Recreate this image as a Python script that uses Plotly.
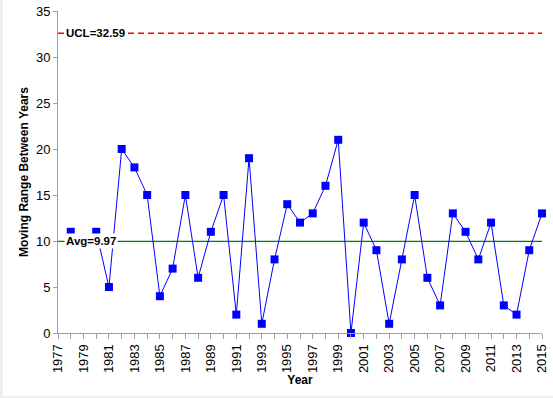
import plotly.graph_objects as go

years = list(range(1978, 2016))
moving_range = [11, 10, 11, 5, 20, 18, 15, 4, 7, 15, 6, 11, 15, 2, 19, 1, 8, 14, 12,
                13, 16, 21, 0, 12, 9, 1, 8, 15, 6, 3, 13, 11, 8, 12, 3, 2, 9, 13]
avg_value = 9.97
ucl_value = 32.59
x_range = [1977, 2015]
y_range = [0, 35]

FONT = "Liberation Sans"
W, H = 553, 398
ML, MR, MT, MB = 58, 11, 11, 65
PW, PH = W - ML - MR, H - MT - MB

fig = go.Figure()

fig.add_trace(go.Scatter(
    x=x_range, y=[ucl_value, ucl_value], mode="lines",
    line=dict(color="#FF0000", width=1.5, dash="6px,4px"),
    hoverinfo="skip", showlegend=False))
fig.add_trace(go.Scatter(
    x=x_range, y=[avg_value, avg_value], mode="lines",
    line=dict(color="#008000", width=1.3),
    hoverinfo="skip", showlegend=False))
fig.add_trace(go.Scatter(
    x=years, y=moving_range, mode="lines+markers",
    line=dict(color="#0000FF", width=1),
    marker=dict(symbol="square", size=8, color="#0000FF"),
    cliponaxis=False, showlegend=False))

fig.add_annotation(x=0.013, xref="paper", y=ucl_value, yref="y",
                   text="<b>UCL=32.59</b>", showarrow=False, xanchor="left",
                   yanchor="middle", bgcolor="white", borderpad=1,
                   font=dict(family=FONT, size=11.5, color="black"))
fig.add_annotation(x=0.013, xref="paper", y=avg_value, yref="y",
                   text="<b>Avg=9.97</b>", showarrow=False, xanchor="left",
                   yanchor="middle", bgcolor="white", borderpad=1,
                   font=dict(family=FONT, size=11.5, color="black"))

# light gray strips at the left and bottom edges of the picture
fig.add_shape(type="rect", xref="paper", yref="paper",
              x0=-ML / PW, x1=-(ML - 3) / PW, y0=-MB / PH, y1=(PH + MT) / PH,
              fillcolor="#F0F0F0", line=dict(width=0), layer="above")
fig.add_shape(type="rect", xref="paper", yref="paper",
              x0=-ML / PW, x1=(PW + MR) / PW, y0=-MB / PH, y1=-(MB - 2) / PH,
              fillcolor="#F0F0F0", line=dict(width=0), layer="above")

fig.update_layout(
    width=W, height=H,
    margin=dict(l=ML, r=MR, t=MT, b=MB),
    paper_bgcolor="white", plot_bgcolor="white",
    font=dict(family=FONT, size=13, color="black"),
)
fig.update_xaxes(
    range=x_range, tickmode="linear", tick0=1977, dtick=2,
    tickangle=-90, ticks="outside", ticklen=5, tickcolor="#A0A0A0",
    minor=dict(dtick=1, tick0=1977, ticks="outside", ticklen=5, tickcolor="#A0A0A0"),
    showline=True, linecolor="#A0A0A0", linewidth=1, showgrid=False, zeroline=False,
    tickfont=dict(family=FONT, size=13), automargin=False,
    title=dict(text="<b>Year</b>", font=dict(family=FONT, size=12), standoff=1),
)
fig.update_yaxes(
    range=y_range, tickmode="linear", tick0=0, dtick=5,
    ticks="outside", ticklen=4, tickcolor="#A0A0A0",
    showline=True, linecolor="#A0A0A0", linewidth=1, showgrid=False, zeroline=False,
    tickfont=dict(family=FONT, size=13), automargin=False,
    title=dict(text="<b>Moving Range Between Years</b>", font=dict(family=FONT, size=12), standoff=4),
)

fig.write_html("out.html", config={"displayModeBar": False},
               post_script="document.body.style.margin='0px';")
